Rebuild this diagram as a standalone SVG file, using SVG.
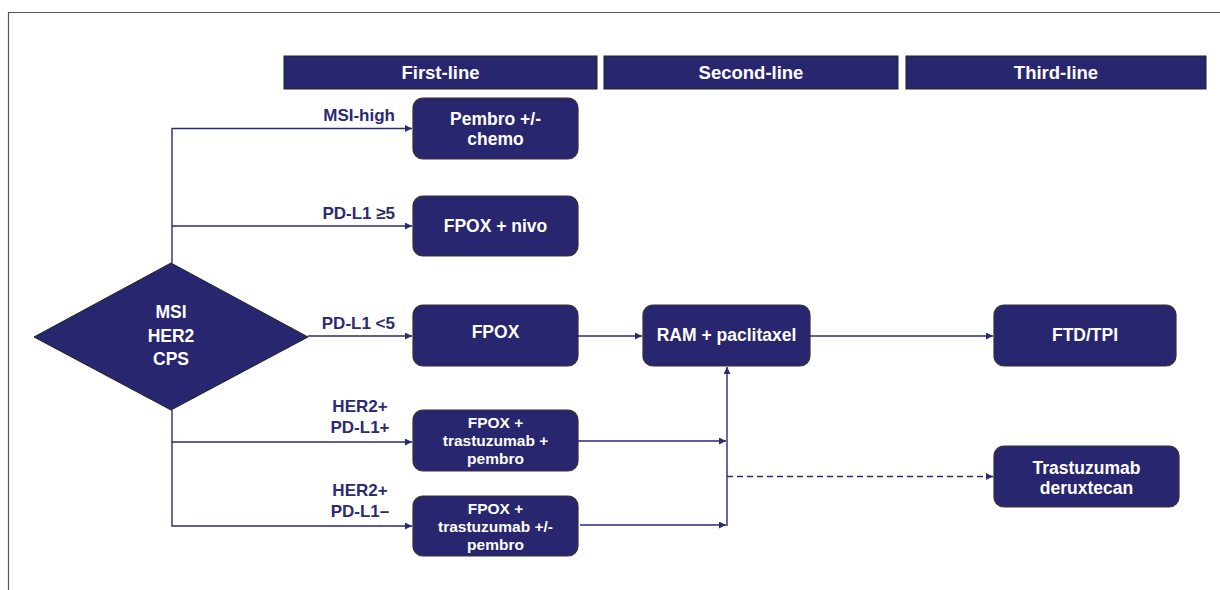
<svg xmlns="http://www.w3.org/2000/svg" width="1220" height="590" viewBox="0 0 1220 590">
<defs>
<style>
.hdr{fill:#28266f;stroke:#222;stroke-width:1}
.box{fill:#28266f;stroke:#333;stroke-width:1.2}
.t{font-family:"Liberation Sans",Arial,sans-serif;font-weight:bold;font-size:17.5px;fill:#fff;text-anchor:middle}
.t3{font-size:15.5px}
.th{font-size:18.5px}
.lbl{font-family:"Liberation Sans",Arial,sans-serif;font-weight:bold;font-size:17px;fill:#2b2a72}
.ln{fill:none;stroke:#2b2a72;stroke-width:1.4}
.dash{stroke-dasharray:6 4}
</style>
<marker id="ah" viewBox="0 0 10 10" refX="10" refY="5" markerWidth="7" markerHeight="7" markerUnits="userSpaceOnUse" orient="auto">
<path d="M0,0 L10,5 L0,10 z" fill="#2b2a72"/>
</marker>
</defs>
<rect width="1220" height="590" fill="#fff"/>
<path d="M8.5,590 V12.5 H1220" fill="none" stroke="#555" stroke-width="1.2"/>

<g id="headers">
<g id="h1"><rect class="hdr" x="284" y="56" width="313" height="33"/><text class="t th" x="440.5" y="79">First-line</text></g>
<g id="h2"><rect class="hdr" x="604" y="56" width="294" height="33"/><text class="t th" x="751" y="79">Second-line</text></g>
<g id="h3"><rect class="hdr" x="906" y="56" width="300" height="33"/><text class="t th" x="1056" y="79">Third-line</text></g>
</g>

<g id="connectors">
<path class="ln" d="M172,263 V128.5 H412" marker-end="url(#ah)"/>
<path class="ln" d="M172,226 H412" marker-end="url(#ah)"/>
<path class="ln" d="M308,336 H412" marker-end="url(#ah)"/>
<path class="ln" d="M172,410 V442 H412" marker-end="url(#ah)"/>
<path class="ln" d="M172,442 V526 H412" marker-end="url(#ah)"/>
<path class="ln" d="M578,336 H642" marker-end="url(#ah)"/>
<path class="ln" d="M810,336 H993" marker-end="url(#ah)"/>
<path class="ln" d="M578,441 H726" marker-end="url(#ah)"/>
<path class="ln" d="M580,525 H726" marker-end="url(#ah)"/>
<path class="ln" d="M727,526 V367" marker-end="url(#ah)"/>
<path class="ln dash" d="M727,476.5 H993" marker-end="url(#ah)"/>
<text class="lbl" x="395" y="121" text-anchor="end">MSI-high</text>
<text class="lbl" x="395" y="219" text-anchor="end">PD-L1 ≥5</text>
<text class="lbl" x="395" y="329" text-anchor="end">PD-L1 &lt;5</text>
<text class="lbl" x="360" y="412" text-anchor="middle">HER2+</text>
<text class="lbl" x="360" y="433" text-anchor="middle">PD-L1+</text>
<text class="lbl" x="360" y="496" text-anchor="middle">HER2+</text>
<text class="lbl" x="360" y="517" text-anchor="middle">PD-L1–</text>
</g>

<g id="decision">
<polygon points="34,337 171,263 308,337 171,410" fill="#28266f" stroke="#222" stroke-width="1"/>
<text class="t" x="171" y="318">MSI</text>
<text class="t" x="171" y="342">HER2</text>
<text class="t" x="171" y="365">CPS</text>
</g>

<g id="pembro">
<rect class="box" x="413" y="98" width="165" height="61" rx="10"/>
<text class="t" x="495.5" y="125">Pembro +/-</text>
<text class="t" x="495.5" y="145">chemo</text>
</g>
<g id="fpox-nivo">
<rect class="box" x="413" y="196" width="165" height="60" rx="10"/>
<text class="t" x="495.5" y="232">FPOX + nivo</text>
</g>
<g id="fpox">
<rect class="box" x="413" y="305" width="165" height="61" rx="10"/>
<text class="t" x="495.5" y="338">FPOX</text>
</g>
<g id="fpox-tras-pembro">
<rect class="box" x="413" y="410" width="165" height="61" rx="10"/>
<text class="t t3" x="495.5" y="428">FPOX +</text>
<text class="t t3" x="495.5" y="446">trastuzumab +</text>
<text class="t t3" x="495.5" y="464">pembro</text>
</g>
<g id="fpox-tras-pm-pembro">
<rect class="box" x="413" y="496" width="165" height="60" rx="10"/>
<text class="t t3" x="495.5" y="514">FPOX +</text>
<text class="t t3" x="495.5" y="532">trastuzumab +/-</text>
<text class="t t3" x="495.5" y="550">pembro</text>
</g>
<g id="ram">
<rect class="box" x="643" y="305" width="167" height="61" rx="10"/>
<text class="t" x="726.5" y="341">RAM + paclitaxel</text>
</g>
<g id="ftd">
<rect class="box" x="994" y="305" width="182" height="61" rx="10"/>
<text class="t" x="1085" y="341">FTD/TPI</text>
</g>
<g id="tdxd">
<rect class="box" x="994" y="446" width="185" height="61" rx="10"/>
<text class="t" x="1086.5" y="474">Trastuzumab</text>
<text class="t" x="1086.5" y="494">deruxtecan</text>
</g>
</svg>
